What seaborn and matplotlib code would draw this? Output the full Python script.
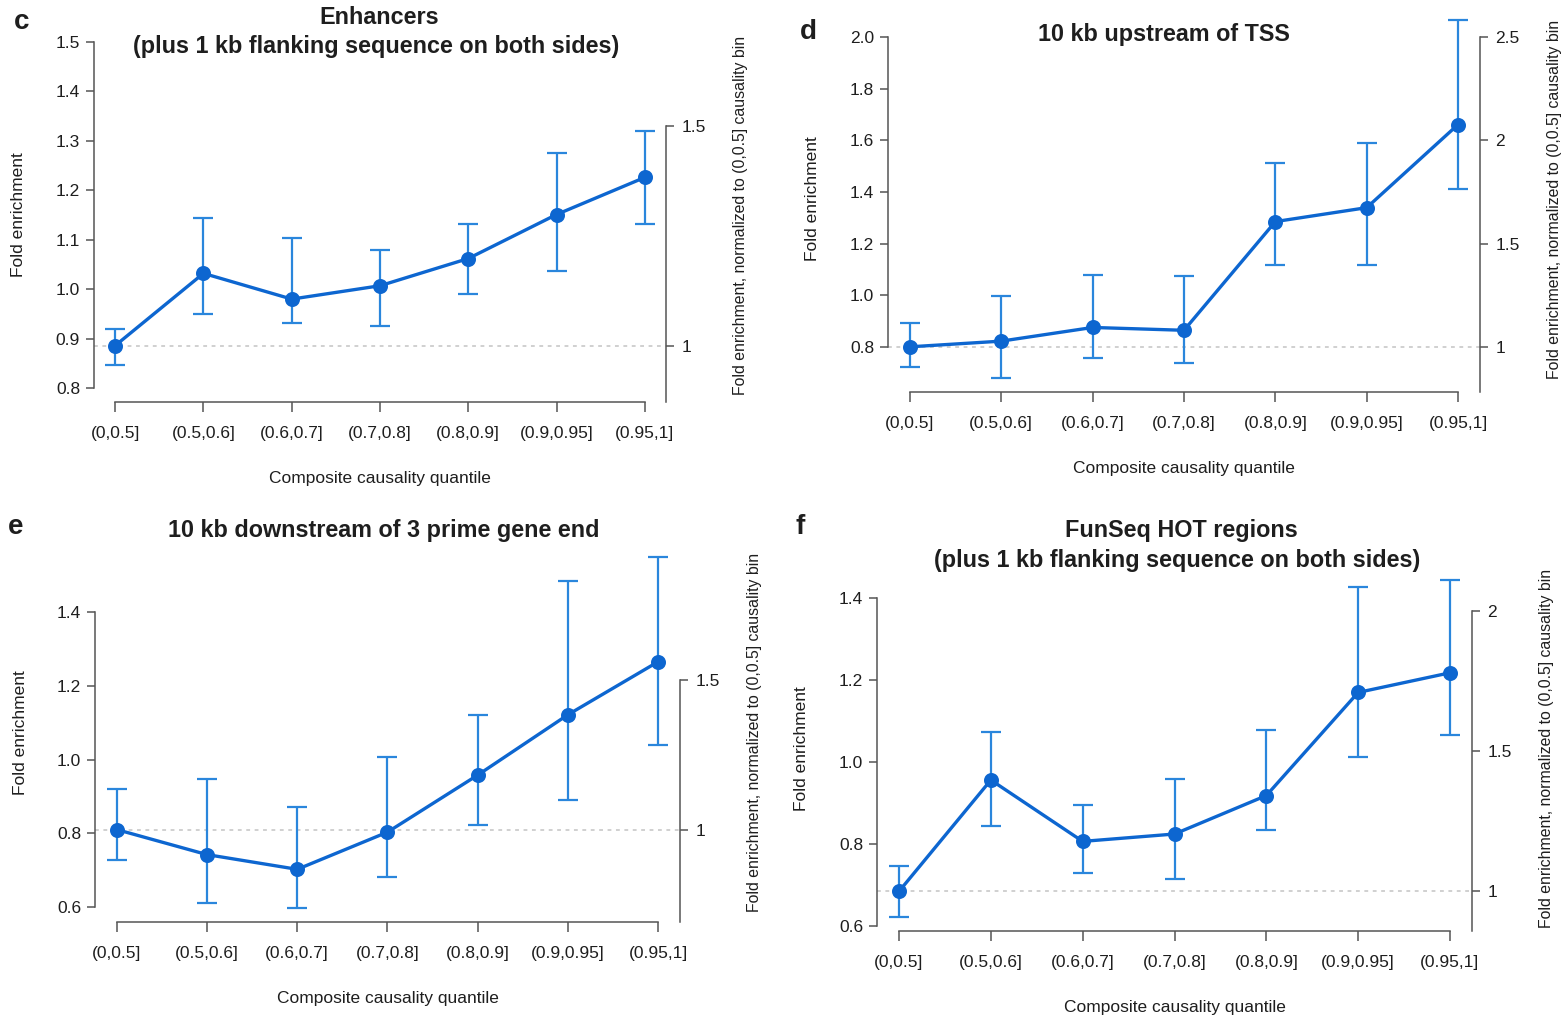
import numpy as np
import pandas as pd
import matplotlib
matplotlib.use("Agg")
import matplotlib.pyplot as plt
import seaborn as sns

# 繪圖風格
sns.set_style("ticks")
plt.rcParams['font.family'] = ['Liberation Sans', 'DejaVu Sans']

W, H = 1561, 1021

# --- data ---
quantiles = ["(0,0.5]", "(0.5,0.6]", "(0.6,0.7]", "(0.7,0.8]", "(0.8,0.9]", "(0.9,0.95]", "(0.95,1]"]

# c: Enhancers (+1 kb flank)
enh_fe = [0.886, 1.032, 0.980, 1.007, 1.062, 1.151, 1.226]
enh_lo = [0.846, 0.950, 0.931, 0.926, 0.991, 1.037, 1.131]
enh_hi = [0.919, 1.143, 1.103, 1.079, 1.132, 1.276, 1.320]

# d: 10 kb upstream of TSS
tss_fe = [0.800, 0.822, 0.875, 0.864, 1.285, 1.339, 1.661]
tss_lo = [0.720, 0.680, 0.755, 0.737, 1.117, 1.117, 1.410]
tss_hi = [0.894, 0.995, 1.077, 1.073, 1.511, 1.589, 2.064]

# e: 10 kb downstream of 3' gene end
down_fe = [0.810, 0.742, 0.702, 0.803, 0.958, 1.122, 1.266]
down_lo = [0.726, 0.610, 0.597, 0.682, 0.823, 0.891, 1.040]
down_hi = [0.920, 0.947, 0.871, 1.008, 1.121, 1.484, 1.550]

# f: FunSeq HOT regions (+1 kb flank)
hot_fe = [0.684, 0.956, 0.806, 0.824, 0.918, 1.170, 1.218]
hot_lo = [0.620, 0.843, 0.729, 0.715, 0.833, 1.013, 1.067]
hot_hi = [0.746, 1.073, 0.896, 0.959, 1.079, 1.428, 1.446]

LINE_BLUE = "#0d66d0"
ERR_BLUE = "#2a86dc"
AXIS_GREY = "#555555"
REF_GREY = "#c4c4c4"
TXT = "#1e1e1e"


def px_box(left, right, top, bottom):
    # pixel box (top-left origin) -> figure fraction [l, b, w, h]
    return [left / W, 1 - bottom / H, (right - left) / W, (bottom - top) / H]


def draw_panel(box, fe, lo, hi, ylim, lticks, rticks):
    ax = fig.add_axes(px_box(*box))
    wpx = box[1] - box[0]
    hpx = box[3] - box[2]
    x = np.arange(len(quantiles))

    ax.axhline(fe[0], color=REF_GREY, lw=1.1, ls=(0, (2.5, 3)), zorder=1)
    ax.errorbar(x, fe, yerr=[np.subtract(fe, lo), np.subtract(hi, fe)], fmt="none",
                ecolor=ERR_BLUE, elinewidth=1.6, capsize=7.5, capthick=1.6, zorder=2)
    df = pd.DataFrame({"quantile": quantiles, "fe": fe})
    sns.pointplot(data=df, x="quantile", y="fe", color=LINE_BLUE, errorbar=None,
                  markers="o", markersize=9, linewidth=2.4, ax=ax)

    ax.set_xlim(-0.24, len(quantiles) - 0.76)
    ax.set_ylim(ylim)
    ax.set_yticks(lticks)
    ax.set_yticklabels([f"{t:.1f}" for t in lticks])
    for s in ["top", "right"]:
        ax.spines[s].set_visible(False)
    ax.spines["left"].set_bounds(lticks[0], lticks[-1])
    ax.spines["bottom"].set_bounds(0, len(quantiles) - 1)
    for s in ["left", "bottom"]:
        ax.spines[s].set_color(AXIS_GREY)
        ax.spines[s].set_linewidth(1.1)
    ax.tick_params(axis="x", length=7, width=1.1, pad=10, color=AXIS_GREY, labelsize=12.5, labelcolor=TXT)
    ax.tick_params(axis="y", length=6, width=1.1, pad=4, color=AXIS_GREY, labelsize=12.5, labelcolor=TXT)

    ax.set_xlabel("Composite causality quantile", fontsize=12.5, color=TXT)
    ax.set_ylabel("Fold enrichment", fontsize=12.5, color=TXT)
    ax.xaxis.label.set_verticalalignment("center")
    ax.yaxis.label.set_verticalalignment("center")
    ax.xaxis.set_label_coords(0.5, -76 / hpx)
    ax.yaxis.set_label_coords(-75 / wpx, 0.5)

    # right axis: normalised to the (0,0.5] bin
    base = fe[0]
    ax2 = ax.twinx()
    ax2.set_ylim(ylim[0] / base, ylim[1] / base)
    ax2.set_yticks(rticks)
    ax2.set_yticklabels([f"{t:g}" for t in rticks])
    for s in ["top", "left", "bottom"]:
        ax2.spines[s].set_visible(False)
    ax2.spines["right"].set_bounds(ylim[0] / base, rticks[-1])
    ax2.spines["right"].set_color(AXIS_GREY)
    ax2.spines["right"].set_linewidth(1.1)
    ax2.tick_params(axis="y", length=6, width=1.1, pad=5, color=AXIS_GREY, labelsize=12.5, labelcolor=TXT)
    ax2.set_ylabel("Fold enrichment, normalized to (0,0.5] causality bin", fontsize=11.4, color=TXT)
    ax2.yaxis.label.set_verticalalignment("center")
    ax2.yaxis.set_label_coords(1 + 75 / wpx, 0.5)
    return ax


def fig_text(xp, yp, s, **kw):
    fig.text(xp / W, 1 - yp / H, s, ha="center", va="center", **kw)


fig = plt.figure(figsize=(W / 100, H / 100), dpi=100)

draw_panel((94, 666, 28, 402), enh_fe, enh_lo, enh_hi, (0.772, 1.528),
           np.round(np.arange(0.8, 1.51, 0.1), 1), [1, 1.5])
draw_panel((888, 1480, 6, 392), tss_fe, tss_lo, tss_hi, (0.625, 2.12),
           np.round(np.arange(0.8, 2.01, 0.2), 1), [1, 1.5, 2, 2.5])
draw_panel((95, 680, 543, 922), down_fe, down_lo, down_hi, (0.559, 1.588),
           np.round(np.arange(0.6, 1.41, 0.2), 1), [1, 1.5])
draw_panel((877, 1472, 566, 931), hot_fe, hot_lo, hot_hi, (0.587, 1.479),
           np.round(np.arange(0.6, 1.41, 0.2), 1), [1, 1.5, 2])

title_kw = dict(fontsize=16.8, fontweight="bold", color=TXT)
fig_text(379, 18, "Enhancers", **title_kw)
fig_text(376, 46, "(plus 1 kb flanking sequence on both sides)", **title_kw)
fig_text(1164, 35, "10 kb upstream of TSS", **title_kw)
fig_text(384, 530, "10 kb downstream of 3 prime gene end", **title_kw)
fig_text(1181, 531, "FunSeq HOT regions", **title_kw)
fig_text(1177, 560, "(plus 1 kb flanking sequence on both sides)", **title_kw)

letter_kw = dict(fontsize=20, fontweight="bold", color=TXT)
fig_text(22, 22, "c", **letter_kw)
fig_text(808, 32, "d", **letter_kw)
fig_text(16, 527, "e", **letter_kw)
fig_text(800, 527, "f", **letter_kw)

fig.savefig("out.png", dpi=100, facecolor="white")
